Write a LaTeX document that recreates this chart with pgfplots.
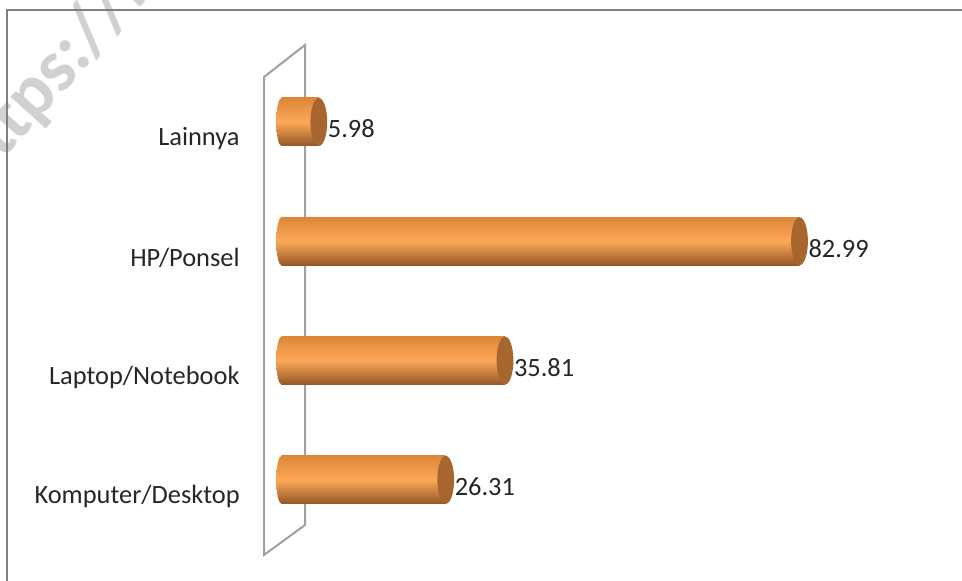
\documentclass[border=0pt]{standalone}
\usepackage{pgfplots}
\usepackage{pgfplotstable}
\pgfplotsset{compat=1.18}
\usepackage{fontspec}
\setmainfont{Carlito}
\definecolor{barTop}{HTML}{DE8638}
\definecolor{barBot}{HTML}{945726}
\definecolor{barLight}{HTML}{FCA858}
\definecolor{capc}{HTML}{A8662F}
\definecolor{wallc}{HTML}{A0A0A0}
\definecolor{framec}{HTML}{808080}
\definecolor{txt}{HTML}{262626}
\pgfdeclareverticalshading{capshade}{100bp}{color(0bp)=(barBot); color(25bp)=(barBot); color(50bp)=(barLight); color(75bp)=(barTop); color(100bp)=(barTop)}
\pgfdeclareplotmark{capR}{\pgfpathellipse{\pgfpointorigin}{\pgfqpoint{4.2pt}{0pt}}{\pgfqpoint{0pt}{12pt}}\pgfusepathqfill}
\pgfdeclareplotmark{capL}{\pgfpathellipse{\pgfpointorigin}{\pgfqpoint{2.6pt}{0pt}}{\pgfqpoint{0pt}{12pt}}\pgfshadepath{capshade}{0}\pgfusepath{discard}}
\pgfplotstableread{
y x label
0 26.31 26.31
1 35.81 35.81
2 82.99 82.99
3 5.98 5.98
}\datatab
\pgfplotsset{cyl/.style={xbar, bar width=24pt, bar shift=0pt, draw=none, top color=barTop, bottom color=barBot, middle color=barLight}}
\begin{document}
\begin{tikzpicture}
\useasboundingbox (0,0) rectangle (481pt,-290.5pt);
\begin{scope}
\clip (0,0) rectangle (481pt,-290.5pt);
\begin{scope}[x=0.5pt,y=-0.5pt]
\node[rotate=48,anchor=base west,text=black!18,font=\fontsize{37}{42}\selectfont\bfseries,inner sep=0pt] at (-24,190) {https://b};
\draw[framec,line width=1pt] (7,581) -- (7,10) -- (962,10);
\draw[wallc,line width=1pt] (264,77) -- (305,45) -- (305,525) -- (264,555) -- cycle;
\end{scope}
\end{scope}
\begin{axis}[
  at={(132pt,-277.5pt)}, anchor=south west,
  scale only axis, width=338pt, height=255pt,
  xmin=-2.8, xmax=105.5, ymin=-0.63, ymax=3.645,
  axis line style={draw=none},
  xtick=\empty,
  ytick={0,1,2,3},
  yticklabels={Komputer/Desktop,Laptop/Notebook,HP/Ponsel,Lainnya},
  major tick length=0pt,
  yticklabel style={font=\fontsize{13.2}{16}\selectfont, text=txt, inner sep=0pt, xshift=-12pt, yshift=-8.5pt},
  clip=false,
]
\addplot[only marks, mark=capL] table[x expr=0, y=y] {\datatab};
\addplot[cyl] coordinates {(26.31,0)};
\addplot[cyl] coordinates {(35.81,1)};
\addplot[cyl] coordinates {(82.99,2)};
\addplot[cyl] coordinates {(5.98,3)};
\addplot[only marks, mark=capR, mark options={fill=capc, draw=none},
  nodes near coords, point meta=explicit symbolic,
  every node near coord/.append style={anchor=west, font=\fontsize{13.2}{16}\selectfont, text=txt, xshift=1pt, yshift=-3.5pt}]
  table[x=x, y=y, meta=label] {\datatab};
\end{axis}
\end{tikzpicture}
\end{document}
